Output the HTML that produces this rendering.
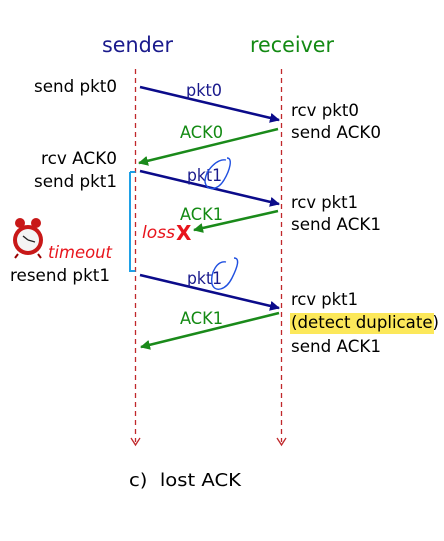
<!DOCTYPE html>
<html><head><meta charset="utf-8"><style>
body{margin:0;background:#fff;}
svg text{font-family:"DejaVu Sans","Liberation Sans",sans-serif;}
</style></head><body>
<svg width="444" height="536" viewBox="0 0 444 536" xmlns="http://www.w3.org/2000/svg">
<defs>
<marker id="ab" viewBox="0 0 10 10" refX="9" refY="5" markerWidth="4" markerHeight="4" orient="auto"><path d="M0,0L10,5L0,10z" fill="#0b0b8a"/></marker>
<marker id="ag" viewBox="0 0 10 10" refX="9" refY="5" markerWidth="4" markerHeight="4" orient="auto"><path d="M0,0L10,5L0,10z" fill="#1a8a1a"/></marker>
</defs>
<text x="102" y="52" font-size="21" fill="#1a1a8c" textLength="71" lengthAdjust="spacingAndGlyphs">sender</text>
<text x="250" y="52" font-size="21" fill="#138a13" textLength="84" lengthAdjust="spacingAndGlyphs">receiver</text>
<g stroke="#c0282b" stroke-width="1.3" stroke-dasharray="5,4" fill="none">
<line x1="135.5" y1="69" x2="135.5" y2="442"/>
<line x1="281.5" y1="69" x2="281.5" y2="442"/>
</g>
<g stroke="#c0282b" stroke-width="1.3" fill="none">
<path d="M131,438L135.5,445L140,438"/>
<path d="M277,438L281.5,445L286,438"/>
</g>
<path d="M130,172H135.5M130,172V271H135.5" stroke="#1ea0e6" stroke-width="2" fill="none"/>
<g stroke-width="2.5" fill="none">
<line x1="140" y1="87" x2="279" y2="120" stroke="#0b0b8a" marker-end="url(#ab)"/>
<line x1="278" y1="129" x2="139" y2="163" stroke="#1a8a1a" marker-end="url(#ag)"/>
<line x1="140" y1="171" x2="279" y2="204" stroke="#0b0b8a" marker-end="url(#ab)"/>
<line x1="278" y1="211" x2="194" y2="230" stroke="#1a8a1a" marker-end="url(#ag)"/>
<line x1="140" y1="275" x2="279" y2="308" stroke="#0b0b8a" marker-end="url(#ab)"/>
<line x1="279" y1="313" x2="141" y2="347" stroke="#1a8a1a" marker-end="url(#ag)"/>
</g>
<g font-size="17" lengthAdjust="spacingAndGlyphs">
<text x="186" y="96" fill="#1a1a8c" textLength="36" lengthAdjust="spacingAndGlyphs">pkt0</text>
<text x="180" y="138" fill="#138a13" textLength="43" lengthAdjust="spacingAndGlyphs">ACK0</text>
<text x="187" y="181" fill="#1a1a8c" textLength="35" lengthAdjust="spacingAndGlyphs">pkt1</text>
<text x="180" y="220" fill="#138a13" textLength="43" lengthAdjust="spacingAndGlyphs">ACK1</text>
<text x="187" y="284" fill="#1a1a8c" textLength="35" lengthAdjust="spacingAndGlyphs">pkt1</text>
<text x="180" y="324" fill="#138a13" textLength="43" lengthAdjust="spacingAndGlyphs">ACK1</text>
</g>
<g fill="none" stroke="#2050e0" stroke-width="1.4">
<path d="M226,160C218,158 205,170 205,182C207,192 218,190 224,180C230,170 233,158 227,158"/>
<path d="M226,262C218,260 210,272 212,284C215,293 226,290 232,278C238,266 240,258 234,258"/>
</g>
<text x="142" y="238" font-size="17" font-style="italic" fill="#e8141c" textLength="33" lengthAdjust="spacingAndGlyphs">loss</text>
<text x="176" y="240" font-size="20" font-weight="bold" fill="#e8141c">X</text>
<g font-size="17" fill="#000">
<text x="34" y="92" textLength="83" lengthAdjust="spacingAndGlyphs">send pkt0</text>
<text x="41" y="164" textLength="76" lengthAdjust="spacingAndGlyphs">rcv ACK0</text>
<text x="34" y="187" textLength="83" lengthAdjust="spacingAndGlyphs">send pkt1</text>
<text x="10" y="281" textLength="100" lengthAdjust="spacingAndGlyphs">resend pkt1</text>
<text x="291" y="116" textLength="68" lengthAdjust="spacingAndGlyphs">rcv pkt0</text>
<text x="291" y="138" textLength="90" lengthAdjust="spacingAndGlyphs">send ACK0</text>
<text x="291" y="208" textLength="67" lengthAdjust="spacingAndGlyphs">rcv pkt1</text>
<text x="291" y="230" textLength="90" lengthAdjust="spacingAndGlyphs">send ACK1</text>
<text x="291" y="305" textLength="67" lengthAdjust="spacingAndGlyphs">rcv pkt1</text>
<rect x="290" y="313" width="144" height="21" fill="#fce85a"/>
<text x="291" y="328" textLength="148" lengthAdjust="spacingAndGlyphs">(detect duplicate)</text>
<text x="291" y="352" textLength="90" lengthAdjust="spacingAndGlyphs">send ACK1</text>
</g>
<text x="48" y="258" font-size="17" font-style="italic" fill="#e8141c" textLength="64" lengthAdjust="spacingAndGlyphs">timeout</text>
<g>
<circle cx="20" cy="223" r="5" fill="#c81818"/>
<circle cx="36" cy="223" r="5" fill="#c81818"/>
<line x1="18" y1="254" x2="15" y2="258" stroke="#900" stroke-width="2"/>
<line x1="38" y1="254" x2="41" y2="258" stroke="#900" stroke-width="2"/>
<circle cx="28" cy="240" r="15" fill="#c81818"/>
<circle cx="28" cy="240" r="11" fill="#f4f4f4"/>
<line x1="28" y1="240" x2="23" y2="236" stroke="#222" stroke-width="1.4"/>
<line x1="28" y1="240" x2="35" y2="242" stroke="#222" stroke-width="1.2"/>
</g>
<text x="129" y="486" font-size="18" fill="#000" textLength="112" lengthAdjust="spacingAndGlyphs">c)&#160; lost ACK</text>
</svg>
</body></html>
